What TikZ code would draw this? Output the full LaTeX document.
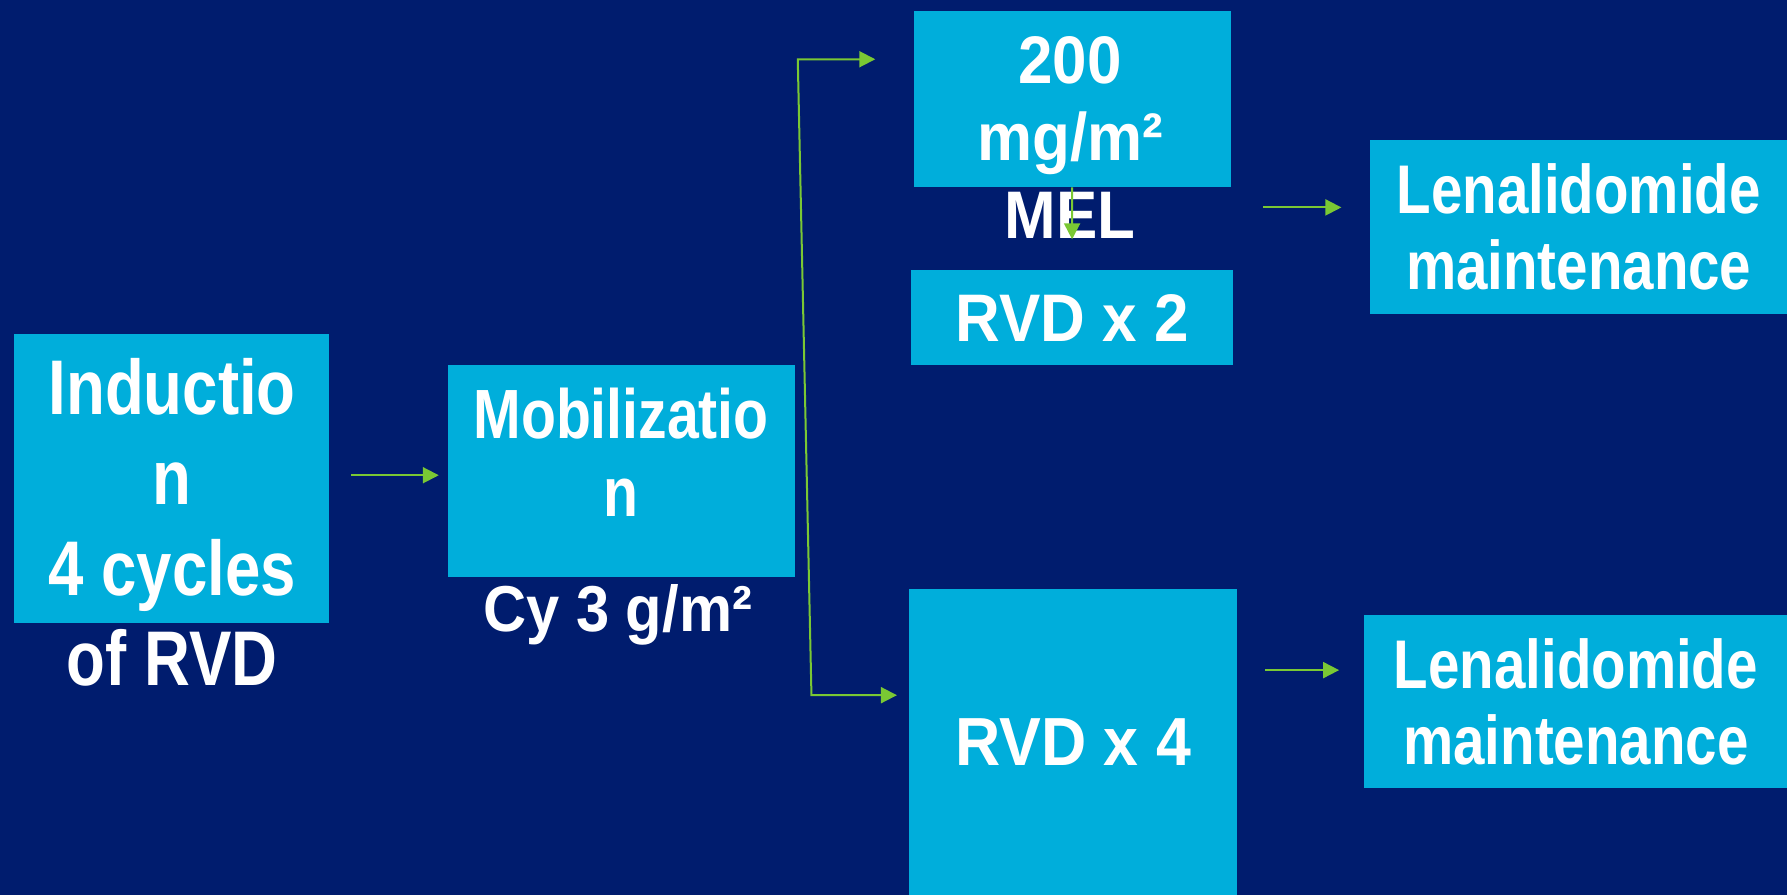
\documentclass[tikz,border=0pt]{standalone}
\usepackage{fontspec}
\setmainfont{Liberation Sans}
\newfontfamily\cndfont[FakeStretch=0.82]{Liberation Sans}
\newfontfamily\midfont[FakeStretch=0.92]{Liberation Sans}
\usetikzlibrary{positioning,arrows.meta}
\definecolor{navy}{RGB}{0,28,110}
\definecolor{boxcyan}{RGB}{0,174,219}
\definecolor{arrowgreen}{RGB}{122,200,52}

\begin{document}
\begin{tikzpicture}[x=0.1mm, y=-0.1mm, >={Triangle[length=1.4mm,width=1.4mm]},
  box/.style={fill=boxcyan, anchor=north west, inner sep=0pt, text=white, align=center},
  txt/.style={text=white, anchor=north, inner sep=0pt, align=center},
  flow/.style={draw=arrowgreen, line width=0.5pt, ->}]
  \useasboundingbox (0,0) rectangle (1568,785);
  \fill[navy] (0,0) rectangle (1568,785);
  \node[box, minimum width=27.6mm, minimum height=25.4mm] (ind) at (12,292) {};
  \node[box, minimum width=30.5mm, minimum height=18.6mm] (mob) at (392,320) {};
  \node[box, minimum width=27.8mm, minimum height=15.4mm] (mel) at (801,9) {};
  \node[box, minimum width=28.2mm, minimum height=8.4mm, font=\midfont\bfseries\fontsize{16.8}{19}\selectfont] (rvdtwo) at (799,236) {RVD x 2};
  \node[box, minimum width=28.8mm, minimum height=26.9mm, font=\midfont\bfseries\fontsize{17}{19}\selectfont] (rvdfour) at (797,516) {RVD x 4};
  \node[box, minimum width=36.7mm, minimum height=15.3mm, font=\cndfont\bfseries\fontsize{17.2}{19.1}\selectfont] (lenaa) at (1201,122) {Lenalidomide\\maintenance};
  \node[box, minimum width=37.2mm, minimum height=15.2mm, font=\cndfont\bfseries\fontsize{17.2}{19.1}\selectfont] (lenab) at (1196,539) {Lenalidomide\\maintenance};
  \node[txt, font=\cndfont\bfseries\fontsize{19.35}{22.5}\selectfont] (indtxt) at (151,314) {Inductio\\n\\4 cycles\\of RVD};
  \node[txt, font=\cndfont\bfseries\fontsize{17.4}{19.35}\selectfont] (mobtxt) at (545,340) {Mobilizatio\\n};
  \node[txt, font=\midfont\bfseries\fontsize{16.2}{19}\selectfont] (cytxt) at (542,512) {Cy 3 g/m²};
  \node[txt, font=\midfont\bfseries\fontsize{16.8}{19.35}\selectfont] (meltxt) at (939,31) {200\\mg/m²\\MEL};
  \coordinate (ftop) at (700,52);
  \coordinate (fbot) at (712,610);
  \draw[flow, shorten <=1.9mm, shorten >=0.7mm] (ind.east |- 0,417) -- (mob.west |- 0,417);
  \draw[flow, <->, shorten <=3.3mm, shorten >=1mm] (mel.west |- ftop) -- (ftop) -- (fbot) -- (rvdfour.west |- fbot);
  \draw[flow, shorten >=2.6mm] (mel.south) -- (rvdtwo.north);
  \draw[flow, shorten <=2.8mm, shorten >=2.4mm] (mel.east |- 0,182) -- (lenaa.west |- 0,182);
  \draw[flow, shorten <=2.4mm, shorten >=2.1mm] (rvdfour.east |- 0,588) -- (lenab.west |- 0,588);
\end{tikzpicture}
\end{document}
